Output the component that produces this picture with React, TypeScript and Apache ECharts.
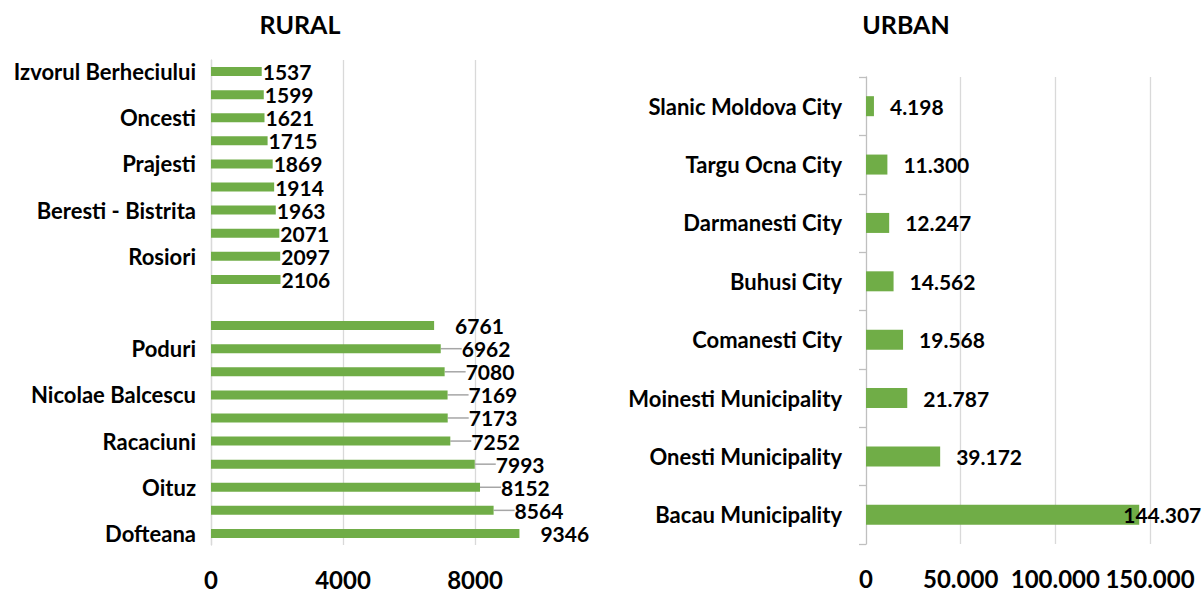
import React, { useEffect, useRef } from 'react';
import * as echarts from 'echarts';

const FONT = 'Lato';

// RURAL panel, listed top to bottom ('' = label not shown in the picture)
const ruralCategories = [
  'Izvorul Berheciului', '', 'Oncesti', '', 'Prajesti', '', 'Beresti - Bistrita', '', 'Rosiori', '',
  '',
  '', 'Poduri', '', 'Nicolae Balcescu', '', 'Racaciuni', '', 'Oituz', '', 'Dofteana',
];
const ruralValues: (number | null)[] = [
  1537, 1599, 1621, 1715, 1869, 1914, 1963, 2071, 2097, 2106,
  null,
  6761, 6962, 7080, 7169, 7173, 7252, 7993, 8152, 8564, 9346,
];
const ruralAxisMax = 10000;
const ruralTickStep = 4000;

// URBAN panel, listed top to bottom
const urbanCategories = [
  'Slanic Moldova City', 'Targu Ocna City', 'Darmanesti City', 'Buhusi City',
  'Comanesti City', 'Moinesti Municipality', 'Onesti Municipality', 'Bacau Municipality',
];
const urbanValues = [4198, 11300, 12247, 14562, 19568, 21787, 39172, 144307];
const urbanAxisMax = 150000;
const urbanTickStep = 50000;

const GREEN = '#70AD47';
const GRID = '#d9d9d9';

const fmtDot = (v: number) => String(Math.round(v)).replace(/\B(?=(\d{3})+(?!\d))/g, '.');

export default function App() {
  const ref = useRef<HTMLDivElement>(null);
  useEffect(() => {
    document.body.style.margin = '0';
    const chart = echarts.init(ref.current!, null, { renderer: 'svg' });
    const baseLabel = { fontFamily: FONT, fontWeight: 'bold' as const, color: '#000' };
    chart.setOption({
      animation: false,
      textStyle: { fontFamily: FONT },
      graphic: [
        { type: 'text', x: 300, y: 24, style: { text: 'RURAL', align: 'center', verticalAlign: 'middle', fontSize: 25, fontWeight: 'bold', fontFamily: FONT, fill: '#000' } },
        { type: 'text', x: 906, y: 24, style: { text: 'URBAN', align: 'center', verticalAlign: 'middle', fontSize: 25, fontWeight: 'bold', fontFamily: FONT, fill: '#000' } },
      ],
      grid: [
        { left: 211, top: 60, width: 330, height: 485 },
        { left: 866, top: 77, width: 284, height: 467 },
      ],
      xAxis: [
        {
          type: 'value', gridIndex: 0, min: 0, max: ruralAxisMax, interval: ruralTickStep,
          axisLine: { show: false }, axisTick: { show: false },
          splitLine: { show: true, showMaxLine: false, lineStyle: { color: GRID, width: 1.3 } },
          axisLabel: { ...baseLabel, fontSize: 24, margin: 22, showMaxLabel: false, formatter: (v: number) => String(v) },
        },
        {
          type: 'value', gridIndex: 1, min: 0, max: urbanAxisMax, interval: urbanTickStep,
          axisLine: { show: false }, axisTick: { show: false },
          splitLine: { show: true, showMinLine: false, lineStyle: { color: GRID, width: 1.3 } },
          axisLabel: { ...baseLabel, fontSize: 24, margin: 22, formatter: (v: number) => fmtDot(v) },
        },
      ],
      yAxis: [
        {
          type: 'category', gridIndex: 0, inverse: true, data: ruralCategories,
          axisLine: { show: true, lineStyle: { color: GRID, width: 1.3 } },
          axisTick: { show: false },
          axisLabel: { ...baseLabel, fontSize: 22, margin: 15, interval: 1 },
        },
        {
          type: 'category', gridIndex: 1, inverse: true, data: urbanCategories,
          axisLine: { show: true, lineStyle: { color: '#bfbfbf', width: 1.3 } },
          axisTick: { show: true, length: 7, lineStyle: { color: '#bfbfbf', width: 1.3 } },
          axisLabel: { ...baseLabel, fontSize: 22, margin: 24 },
        },
      ],
      series: [
        {
          type: 'bar', xAxisIndex: 0, yAxisIndex: 0, barWidth: 9,
          itemStyle: { color: GREEN },
          data: ruralValues.map((v, i) => ({ value: v, labelLine: { show: i >= 12 && i <= 19 } })),
          label: { show: true, position: 'right', distance: 1, ...baseLabel, fontSize: 21, formatter: '{c}' },
          labelLayout: (p: any) => (p.dataIndex >= 11 ? { dx: 20 } : {}),
          labelLine: { show: false, lineStyle: { color: '#a6a6a6', width: 1.5 } },
        },
        {
          type: 'bar', xAxisIndex: 1, yAxisIndex: 1, barWidth: 20,
          itemStyle: { color: GREEN },
          data: urbanValues.map((v, i) => (i === urbanValues.length - 1 ? { value: v, label: { offset: [-32, 0] } } : { value: v })),
          label: { show: true, position: 'right', distance: 16, ...baseLabel, fontSize: 21, formatter: (p: any) => fmtDot(p.value) },
        },
      ],
    });
    return () => chart.dispose();
  }, []);
  return <div ref={ref} style={{ width: 1202, height: 592 }} />;
}
